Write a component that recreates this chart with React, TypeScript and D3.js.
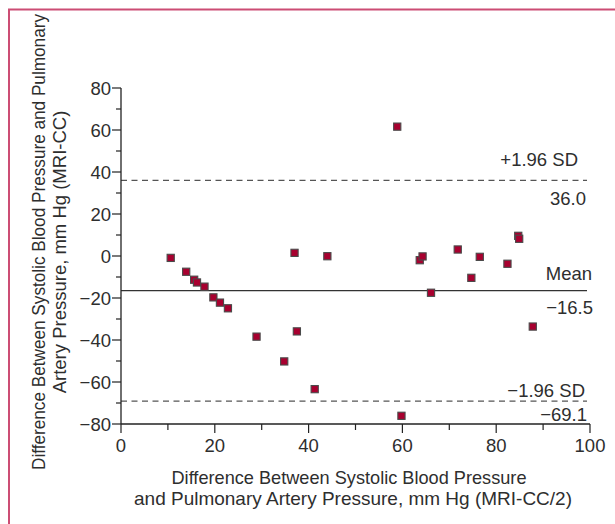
import React from 'react';
import * as d3 from 'd3';

// mean difference (x) vs difference between methods (y)
const xVals = [10.6, 13.9, 15.6, 16.2, 17.8, 19.7, 21.1, 22.8, 28.9, 34.8, 37.0, 37.5, 41.3, 44.0,
  58.9, 59.8, 63.7, 64.3, 66.1, 71.8, 74.7, 76.5, 82.4, 84.7, 84.9, 87.8];
const yVals = [-0.9, -7.5, -11.3, -12.6, -14.6, -19.7, -22.2, -24.9, -38.4, -50.2, 1.5, -35.9, -63.4, -0.1,
  61.6, -76.1, -2.0, -0.2, -17.5, 3.1, -10.4, -0.4, -3.7, 9.6, 8.2, -33.6];

const xTicks = [0, 20, 40, 60, 80, 100];
const yTicks = [80, 60, 40, 20, 0, -20, -40, -60, -80];
const refValues = [36.0, -16.5, -69.1];
const refNames = ['+1.96 SD', 'Mean', '\u22121.96 SD'];
const refLabels = ['36.0', '\u221216.5', '\u221269.1'];
const refDashed = [true, false, true];

const xTitle = ['Difference Between Systolic Blood Pressure', 'and Pulmonary Artery Pressure, mm Hg (MRI-CC/2)'];
const yTitle = ['Difference Between Systolic Blood Pressure and Pulmonary', 'Artery Pressure, mm Hg (MRI-CC)'];

const W = 615;
const H = 524;
const font = "'Liberation Sans', Arial, sans-serif";
const ink = '#2e2e2e';
const fs = 18.5;

// label placement per reference line: [name right, name dy, value right, value dy]
const refLayout = [
  [578, -14, 586, 24.5],
  [592, -10.5, 593, 23],
  [585, -4.5, 587, 20],
];

const fmt = (v: number) => (v < 0 ? '\u2212' + Math.abs(v) : String(v));

export default function App() {
  const x = d3.scaleLinear().domain([0, 100]).range([121, 590]);
  const y = d3.scaleLinear().domain([-80, 80]).range([424, 88]);
  const lineEnd = 587;

  const minorX = d3.range(10, 100, 20);
  const minorY = d3.range(-70, 80, 20);

  return (
    <div style={{ position: 'absolute', left: 0, top: 0 }}>
      <svg width={W} height={H} style={{ display: 'block', fontFamily: font }}>
        <rect x={0} y={0} width={W} height={H} fill="#fff" />
        <rect x={9} y={9.5} width={W + 10} height={H + 10} fill="none" stroke="#cc4d74" strokeWidth={2} />

        {/* reference lines */}
        {refValues.map((v, i) => (
          <g key={refNames[i]}>
            <line x1={x(0)} x2={lineEnd} y1={y(v)} y2={y(v)}
              stroke={refDashed[i] ? '#555' : '#333'} strokeWidth={1.4}
              strokeDasharray={refDashed[i] ? '6,4.5' : undefined} />
            <text x={refLayout[i][0]} y={y(v) + refLayout[i][1]} textAnchor="end" fontSize={fs} fill={ink}>{refNames[i]}</text>
            <text x={refLayout[i][2]} y={y(v) + refLayout[i][3]} textAnchor="end" fontSize={fs} fill={ink}>{refLabels[i]}</text>
          </g>
        ))}

        {/* axes */}
        <line x1={x(0)} x2={x(0)} y1={y(80)} y2={y(-80)} stroke="#222" strokeWidth={1.3} />
        <line x1={x(0)} x2={x(100)} y1={y(-80)} y2={y(-80)} stroke="#222" strokeWidth={1.3} />
        {yTicks.map((t) => (
          <g key={'y' + t}>
            <line x1={x(0) - 9} x2={x(0)} y1={y(t)} y2={y(t)} stroke="#222" strokeWidth={1.2} />
            <text x={x(0) - 10} y={y(t) + 6.6} textAnchor="end" fontSize={fs} fill={ink}>{fmt(t)}</text>
          </g>
        ))}
        {minorY.map((t) => (
          <line key={'my' + t} x1={x(0) - 5} x2={x(0)} y1={y(t)} y2={y(t)} stroke="#222" strokeWidth={1.2} />
        ))}
        {xTicks.map((t) => (
          <g key={'x' + t}>
            <line x1={x(t)} x2={x(t)} y1={y(-80)} y2={y(-80) + 9} stroke="#222" strokeWidth={1.2} />
            <text x={x(t)} y={452} textAnchor="middle" fontSize={fs} fill={ink}>{t}</text>
          </g>
        ))}
        {minorX.map((t) => (
          <line key={'mx' + t} x1={x(t)} x2={x(t)} y1={y(-80)} y2={y(-80) + 6} stroke="#222" strokeWidth={1.2} />
        ))}

        {/* axis titles */}
        <text x={349} y={484} textAnchor="middle" fontSize={fs} fill={ink} textLength={355} lengthAdjust="spacingAndGlyphs">{xTitle[0]}</text>
        <text x={353} y={505} textAnchor="middle" fontSize={fs} fill={ink} textLength={438} lengthAdjust="spacingAndGlyphs">{xTitle[1]}</text>
        <g transform="rotate(-90)">
          <text x={-242} y={45} textAnchor="middle" fontSize={17.5} fill={ink} textLength={456} lengthAdjust="spacingAndGlyphs">{yTitle[0]}</text>
          <text x={-252} y={66} textAnchor="middle" fontSize={fs} fill={ink}>{yTitle[1]}</text>
        </g>

        {/* points */}
        {xVals.map((v, i) => (
          <rect key={i} x={x(v) - 3.6} y={y(yVals[i]) - 3.6} width={7.2} height={7.2}
            fill="#a8002f" stroke="#4a4a4a" strokeWidth={1.1} />
        ))}
      </svg>
    </div>
  );
}
